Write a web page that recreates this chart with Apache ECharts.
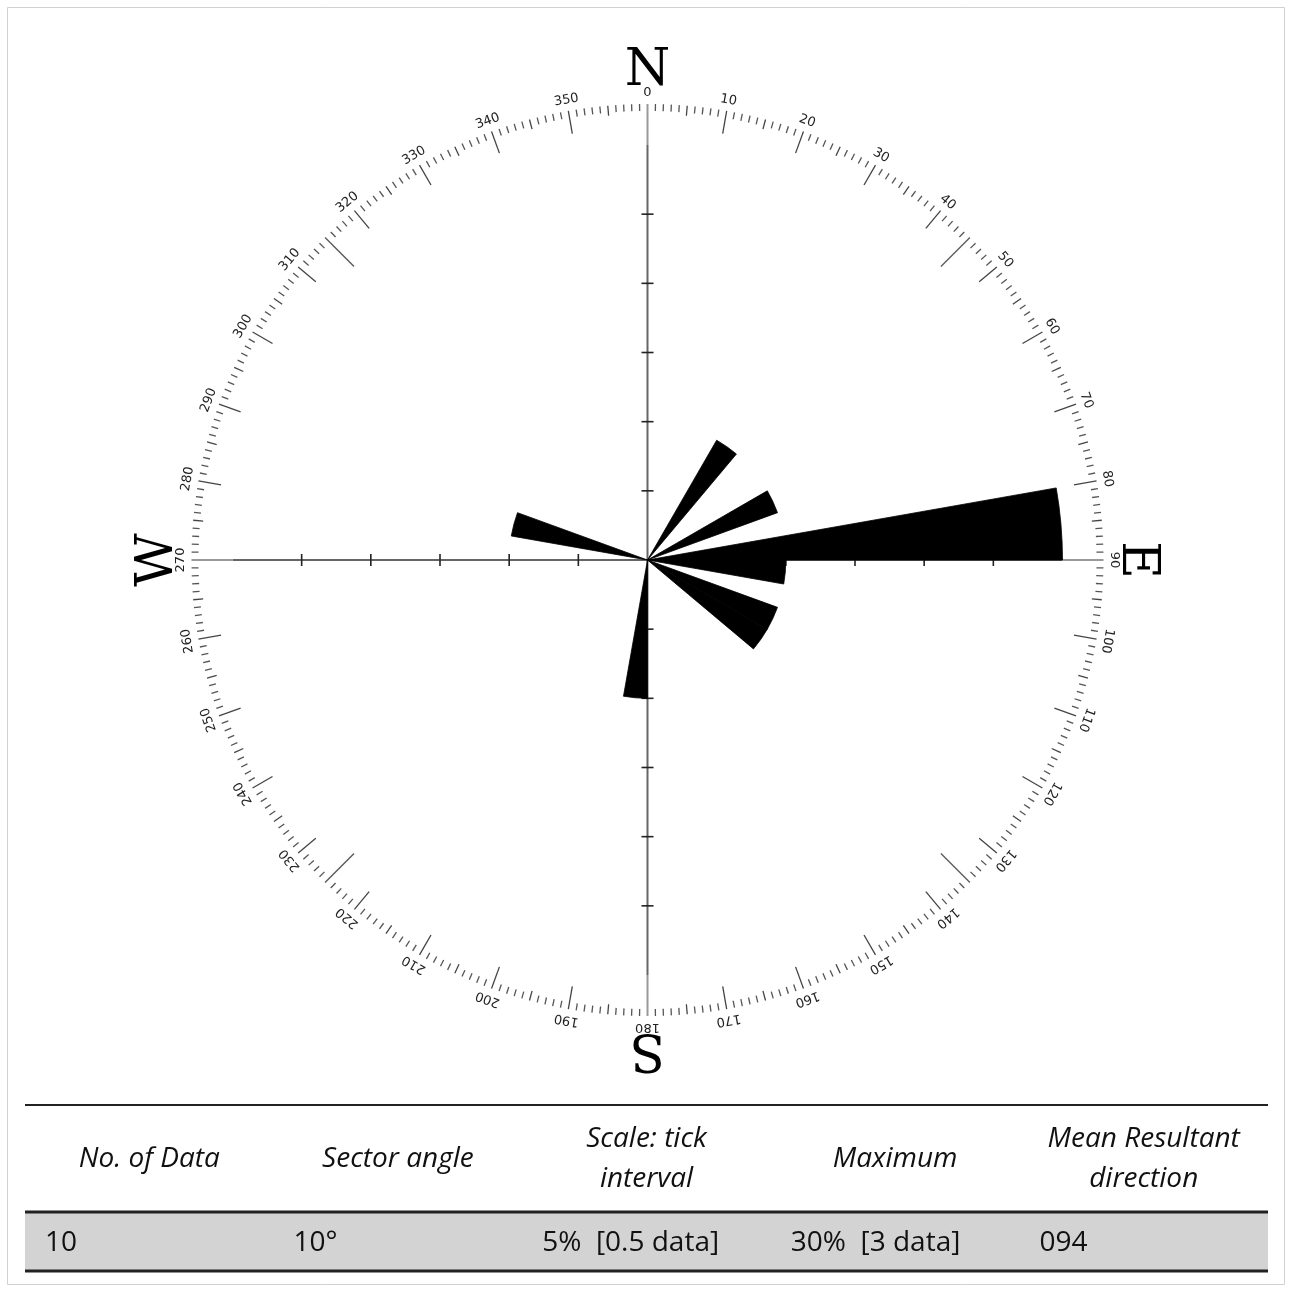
<!DOCTYPE html>
<html>
<head>
<meta charset="utf-8">
<script src="https://cdn.jsdelivr.net/npm/echarts@6/dist/echarts.min.js"></script>
<style>
html,body{margin:0;padding:0;background:#fff;}
#chart{width:1290px;height:1290px;}
</style>
</head>
<body>
<div id="chart"></div>
<script>
// ---- data ----
const sectorCategories = ['0-10','10-20','20-30','30-40','40-50','50-60','60-70','70-80','80-90','90-100',
  '100-110','110-120','120-130','130-140','140-150','150-160','160-170','170-180','180-190','190-200',
  '200-210','210-220','220-230','230-240','240-250','250-260','260-270','270-280','280-290','290-300',
  '300-310','310-320','320-330','330-340','340-350','350-360'];
const sectorPercent = [0,0,0,10,0,0,10,0,30,10,
  0,10,10,0,0,0,0,0,10,0,
  0,0,0,0,0,0,0,0,10,0,
  0,0,0,0,0,0];
const degreeLabels = ['0','10','20','30','40','50','60','70','80','90','100','110','120','130','140','150','160','170',
  '180','190','200','210','220','230','240','250','260','270','280','290','300','310','320','330','340','350'];
const compassLetters = ['N','E','S','W'];
const compassBearings = [0,90,180,270];
const radialTickValues = [5,10,15,20,25];
const radialMax = 30;
const tableHeaders = ['No. of Data','Sector angle','Scale: tick\ninterval','Maximum','Mean Resultant\ndirection'];
const tableValues = ['10','10\u00b0','5%  [0.5 data]','30%  [3 data]','094'];

// ---- layout ----
const CX = 647.5, CY = 560, R = 415;
const px2v = p => p / R * radialMax;
const ringDegrees = [];
for (let d = 0; d < 360; d++) ringDegrees.push(d);

const chart = echarts.init(document.getElementById('chart'), null, {renderer:'canvas'});

function ringItem(params, api) {
  const d = api.value(1);
  const ch = [];
  const outer = px2v(456);
  let inner;
  let color = '#444', lw = 1.3;
  if (d % 90 === 0) { inner = radialMax; color = '#999'; lw = 2; }
  else if (d % 45 === 0) { inner = px2v(415); color = '#555'; lw = 1.3; }
  else if (d % 10 === 0) { inner = px2v(433); }
  else if (d % 5 === 0) { inner = px2v(446); }
  else { inner = px2v(449); color = '#555'; }
  const a = api.coord([inner, d]);
  const b = api.coord([outer, d]);
  ch.push({type:'line', shape:{x1:a[0],y1:a[1],x2:b[0],y2:b[1]}, style:{stroke:color, lineWidth:lw}});
  if (d % 10 === 0) {
    const p = api.coord([px2v(467), d]);
    ch.push({type:'text', x:p[0], y:p[1], rotation:-d*Math.PI/180,
      style:{text:degreeLabels[d/10], font:'13px "DejaVu Sans"', fill:'#222', align:'center', verticalAlign:'middle'}});
  }
  const li = compassBearings.indexOf(d);
  if (li >= 0) {
    const p = api.coord([px2v(489), d]);
    ch.push({type:'text', x:p[0], y:p[1], rotation:-d*Math.PI/180,
      style:{text:compassLetters[li], font:'52px "DejaVu Serif"', fill:'#000', align:'center', verticalAlign:'middle'}});
  }
  return {type:'group', children:ch};
}

function armItem(params, api) {
  const d = api.value(1);
  const ch = [];
  const o = api.coord([0, d]);
  const e = api.coord([radialMax, d]);
  ch.push({type:'line', shape:{x1:o[0],y1:o[1],x2:e[0],y2:e[1]}, style:{stroke:'#666', lineWidth:2}});
  const rad = d * Math.PI / 180;
  const ux = Math.cos(rad), uy = Math.sin(rad);
  radialTickValues.forEach(v => {
    const p = api.coord([v, d]);
    ch.push({type:'line', shape:{x1:p[0]-ux*6, y1:p[1]-uy*6, x2:p[0]+ux*6, y2:p[1]+uy*6},
      style:{stroke:'#222', lineWidth:1.6}});
  });
  return {type:'group', children:ch};
}

const colX0 = 25, colW = (1268 - 25) / 5;
const graphics = [];
graphics.push({type:'rect', shape:{x:7.5,y:7.5,width:1277,height:1277}, style:{fill:'none', stroke:'#d0d0d0', lineWidth:1}, silent:true});
graphics.push({type:'rect', shape:{x:25,y:1213,width:1243,height:58}, style:{fill:'#d3d3d3'}});
graphics.push({type:'line', shape:{x1:25,y1:1105,x2:1268,y2:1105}, style:{stroke:'#222', lineWidth:2}});
graphics.push({type:'line', shape:{x1:25,y1:1212,x2:1268,y2:1212}, style:{stroke:'#222', lineWidth:3}});
graphics.push({type:'line', shape:{x1:25,y1:1271,x2:1268,y2:1271}, style:{stroke:'#222', lineWidth:3}});
tableHeaders.forEach((h, i) => {
  graphics.push({type:'text', x: colX0 + colW*(i+0.5), y:1159,
    style:{text:h, font:'italic 28px "Open Sans"', fill:'#111', align:'center', verticalAlign:'middle', lineHeight:40}});
});
tableValues.forEach((t, i) => {
  graphics.push({type:'text', x: colX0 + colW*i + 20, y:1243,
    style:{text:t, font:'28px "Open Sans"', fill:'#111', align:'left', verticalAlign:'middle'}});
});

const option = {
  animation:false,
  backgroundColor:'#fff',
  polar:[{center:[CX,CY], radius:R},{center:[CX,CY], radius:R}],
  angleAxis:[
    {polarIndex:0, type:'category', data:sectorCategories, startAngle:90, clockwise:true, boundaryGap:true,
     axisLine:{show:false}, axisTick:{show:false}, axisLabel:{show:false}, splitLine:{show:false}},
    {polarIndex:1, type:'value', min:0, max:360, interval:10, startAngle:90, clockwise:true,
     axisLine:{show:false}, axisTick:{show:false}, axisLabel:{show:false}, splitLine:{show:false}}
  ],
  radiusAxis:[
    {polarIndex:0, type:'value', min:0, max:radialMax, interval:5,
     axisLine:{show:false}, axisTick:{show:false}, axisLabel:{show:false}, splitLine:{show:false}},
    {polarIndex:1, type:'value', min:0, max:radialMax, interval:5,
     axisLine:{show:false}, axisTick:{show:false}, axisLabel:{show:false}, splitLine:{show:false}}
  ],
  series:[
    {type:'custom', coordinateSystem:'polar', polarIndex:1, z:1, silent:true,
     data: compassBearings.map(b => [0, b]), renderItem: armItem},
    {type:'custom', coordinateSystem:'polar', polarIndex:1, z:1, silent:true,
     data: ringDegrees.map(d => [0, d]), renderItem: ringItem},
    {type:'bar', coordinateSystem:'polar', polarIndex:0, z:5, data: sectorPercent,
     barCategoryGap:'0%', itemStyle:{color:'#000', borderColor:'#000', borderWidth:0.8}, silent:true}
  ],
  graphic: graphics
};
chart.setOption(option);
</script>
</body>
</html>
